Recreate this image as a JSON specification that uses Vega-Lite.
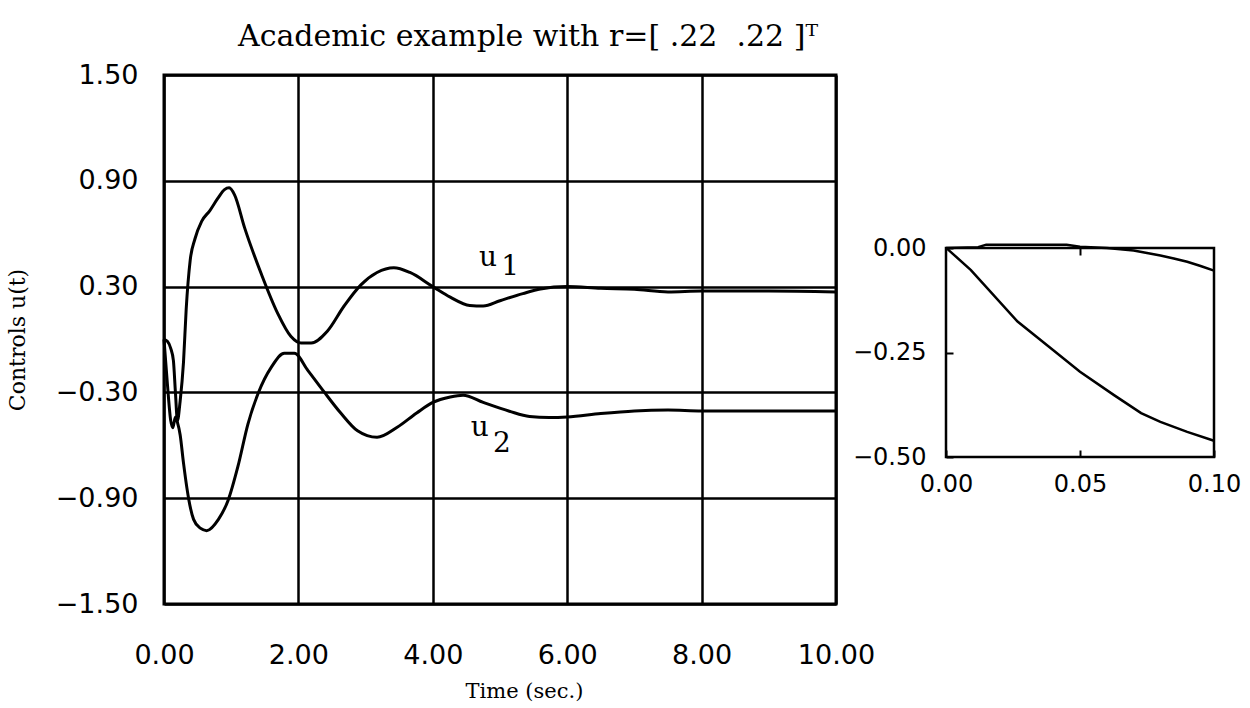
{
  "$schema": "https://vega.github.io/schema/vega-lite/v6.json",
  "background": "white",
  "padding": {"left": 4, "top": 20, "right": 5, "bottom": 2},
  "config": {
    "view": {"stroke": "black", "strokeWidth": 3},
    "axis": {"labelColor": "black", "titleColor": "black", "titleFontWeight": "normal"}
  },
  "datasets": {
    "main": [
      {"series": "u1", "t": 0, "u": 0},
      {"series": "u1", "t": 0.05, "u": -0.01},
      {"series": "u1", "t": 0.1, "u": -0.05},
      {"series": "u1", "t": 0.14, "u": -0.12},
      {"series": "u1", "t": 0.17, "u": -0.3},
      {"series": "u1", "t": 0.2, "u": -0.46},
      {"series": "u1", "t": 0.24, "u": -0.35},
      {"series": "u1", "t": 0.29, "u": -0.13},
      {"series": "u1", "t": 0.33, "u": 0.17},
      {"series": "u1", "t": 0.39, "u": 0.45},
      {"series": "u1", "t": 0.46, "u": 0.57},
      {"series": "u1", "t": 0.56, "u": 0.67},
      {"series": "u1", "t": 0.68, "u": 0.73},
      {"series": "u1", "t": 0.8, "u": 0.8},
      {"series": "u1", "t": 0.9, "u": 0.85},
      {"series": "u1", "t": 0.97, "u": 0.86},
      {"series": "u1", "t": 1.05, "u": 0.82},
      {"series": "u1", "t": 1.2, "u": 0.633},
      {"series": "u1", "t": 1.45, "u": 0.37},
      {"series": "u1", "t": 1.69, "u": 0.15},
      {"series": "u1", "t": 1.89, "u": 0.017},
      {"series": "u1", "t": 2.04, "u": -0.02},
      {"series": "u1", "t": 2.19, "u": -0.02},
      {"series": "u1", "t": 2.43, "u": 0.047},
      {"series": "u1", "t": 2.68, "u": 0.19},
      {"series": "u1", "t": 2.93, "u": 0.31},
      {"series": "u1", "t": 3.17, "u": 0.38},
      {"series": "u1", "t": 3.42, "u": 0.407},
      {"series": "u1", "t": 3.66, "u": 0.38},
      {"series": "u1", "t": 4.0, "u": 0.3},
      {"series": "u1", "t": 4.26, "u": 0.24},
      {"series": "u1", "t": 4.55, "u": 0.193},
      {"series": "u1", "t": 4.75, "u": 0.19},
      {"series": "u1", "t": 5.0, "u": 0.22},
      {"series": "u1", "t": 5.34, "u": 0.26},
      {"series": "u1", "t": 5.6, "u": 0.286},
      {"series": "u1", "t": 6.0, "u": 0.3},
      {"series": "u1", "t": 6.5, "u": 0.29},
      {"series": "u1", "t": 7.0, "u": 0.285},
      {"series": "u1", "t": 7.5, "u": 0.27},
      {"series": "u1", "t": 8.0, "u": 0.275},
      {"series": "u1", "t": 9.0, "u": 0.275},
      {"series": "u1", "t": 10.0, "u": 0.27},
      {"series": "u2", "t": 0, "u": 0},
      {"series": "u2", "t": 0.05, "u": -0.25},
      {"series": "u2", "t": 0.1, "u": -0.46},
      {"series": "u2", "t": 0.13, "u": -0.5},
      {"series": "u2", "t": 0.17, "u": -0.44},
      {"series": "u2", "t": 0.2, "u": -0.47},
      {"series": "u2", "t": 0.24, "u": -0.54},
      {"series": "u2", "t": 0.29, "u": -0.7},
      {"series": "u2", "t": 0.34, "u": -0.84},
      {"series": "u2", "t": 0.37, "u": -0.91},
      {"series": "u2", "t": 0.44, "u": -1.02},
      {"series": "u2", "t": 0.54, "u": -1.07},
      {"series": "u2", "t": 0.635, "u": -1.084},
      {"series": "u2", "t": 0.81, "u": -1.02},
      {"series": "u2", "t": 0.956, "u": -0.91},
      {"series": "u2", "t": 1.1, "u": -0.72},
      {"series": "u2", "t": 1.25, "u": -0.478},
      {"series": "u2", "t": 1.4, "u": -0.306},
      {"series": "u2", "t": 1.6, "u": -0.155},
      {"series": "u2", "t": 1.79, "u": -0.078},
      {"series": "u2", "t": 1.94, "u": -0.078},
      {"series": "u2", "t": 2.14, "u": -0.175},
      {"series": "u2", "t": 2.38, "u": -0.296},
      {"series": "u2", "t": 2.63, "u": -0.417},
      {"series": "u2", "t": 2.88, "u": -0.518},
      {"series": "u2", "t": 3.17, "u": -0.555},
      {"series": "u2", "t": 3.47, "u": -0.498},
      {"series": "u2", "t": 3.76, "u": -0.417},
      {"series": "u2", "t": 4.0, "u": -0.357},
      {"series": "u2", "t": 4.26, "u": -0.326},
      {"series": "u2", "t": 4.45, "u": -0.316},
      {"series": "u2", "t": 4.75, "u": -0.357},
      {"series": "u2", "t": 5.14, "u": -0.407},
      {"series": "u2", "t": 5.44, "u": -0.437},
      {"series": "u2", "t": 5.73, "u": -0.443},
      {"series": "u2", "t": 6.0, "u": -0.44},
      {"series": "u2", "t": 6.5, "u": -0.42},
      {"series": "u2", "t": 7.0, "u": -0.405},
      {"series": "u2", "t": 7.5, "u": -0.4},
      {"series": "u2", "t": 8.0, "u": -0.405},
      {"series": "u2", "t": 9.0, "u": -0.405},
      {"series": "u2", "t": 10.0, "u": -0.405}
    ],
    "inset": [
      {"series": "u1", "t": 0, "u": 0},
      {"series": "u1", "t": 0.012, "u": 0.002},
      {"series": "u1", "t": 0.015, "u": 0.008},
      {"series": "u1", "t": 0.045, "u": 0.008},
      {"series": "u1", "t": 0.05, "u": 0.003},
      {"series": "u1", "t": 0.06, "u": 0.0},
      {"series": "u1", "t": 0.065, "u": -0.003},
      {"series": "u1", "t": 0.07, "u": -0.006},
      {"series": "u1", "t": 0.075, "u": -0.012},
      {"series": "u1", "t": 0.08, "u": -0.018},
      {"series": "u1", "t": 0.085, "u": -0.025},
      {"series": "u1", "t": 0.09, "u": -0.033},
      {"series": "u1", "t": 0.095, "u": -0.043},
      {"series": "u1", "t": 0.1, "u": -0.054},
      {"series": "u2", "t": 0, "u": 0},
      {"series": "u2", "t": 0.001, "u": -0.005},
      {"series": "u2", "t": 0.0093, "u": -0.053},
      {"series": "u2", "t": 0.0267, "u": -0.176},
      {"series": "u2", "t": 0.039, "u": -0.239},
      {"series": "u2", "t": 0.05, "u": -0.296},
      {"series": "u2", "t": 0.0627, "u": -0.352},
      {"series": "u2", "t": 0.0728, "u": -0.395},
      {"series": "u2", "t": 0.08, "u": -0.416},
      {"series": "u2", "t": 0.09, "u": -0.44},
      {"series": "u2", "t": 0.1, "u": -0.461}
    ],
    "labels": [
      {"t": 4.82, "u": 0.46, "s": "u"},
      {"t": 5.15, "u": 0.41, "s": "1"},
      {"t": 4.7, "u": -0.5, "s": "u"},
      {"t": 5.03, "u": -0.59, "s": "2"}
    ]
  },
  "hconcat": [
    {
      "width": 672,
      "height": 529,
      "title": {"text": "Academic example with r=[ .22\u00a0\u00a0.22 ]ᵀ", "font": "DejaVu Serif", "fontSize": 30, "fontWeight": "normal", "color": "black", "dx": 28, "offset": 9},
      "layer": [
        {
          "data": {"name": "main"},
          "mark": {"type": "line", "color": "black", "strokeWidth": 3, "interpolate": "monotone"},
          "encoding": {
            "x": {"field": "t", "type": "quantitative", "scale": {"domain": [0, 10], "nice": false, "zero": false},
              "axis": {"values": [0, 2, 4, 6, 8, 10], "format": ".2f", "grid": true, "gridColor": "black", "gridWidth": 2.5, "gridOpacity": 1, "ticks": false, "domain": false,
                "labelFont": "DejaVu Sans", "labelFontSize": 27, "labelPadding": 38, "labelDx": 17, "labelFlush": false,
                "title": "Time (sec.)", "titleFont": "DejaVu Serif", "titleFontSize": 21, "titlePadding": 12, "titleX": 360}},
            "y": {"field": "u", "type": "quantitative", "scale": {"domain": [-1.5, 1.5], "nice": false, "zero": false},
              "axis": {"values": [-1.5, -0.9, -0.3, 0.3, 0.9, 1.5], "format": ".2f", "grid": true, "gridColor": "black", "gridWidth": 2.5, "gridOpacity": 1, "ticks": false, "domain": false,
                "labelFont": "DejaVu Sans", "labelFontSize": 27, "labelPadding": 26, "labelFlush": false,
                "title": "Controls u(t)", "titleFont": "DejaVu Serif", "titleFontSize": 22, "titlePadding": 26}},
            "detail": {"field": "series"}
          }
        },
        {
          "data": {"name": "labels"},
          "mark": {"type": "text", "font": "DejaVu Serif", "fontSize": 28, "color": "black"},
          "encoding": {
            "x": {"field": "t", "type": "quantitative"},
            "y": {"field": "u", "type": "quantitative"},
            "text": {"field": "s"}
          }
        }
      ]
    },
    {
      "bounds": "flush",
      "spacing": 13,
      "vconcat": [
        {
          "width": 268,
          "height": 160,
          "view": {"stroke": null},
          "data": {"values": [{"a": 1}]},
          "mark": {"type": "text"},
          "encoding": {"text": {"value": ""}}
        },
        {
          "width": 268,
          "height": 209,
          "view": {"stroke": "black", "strokeWidth": 2.5},
          "data": {"name": "inset"},
          "resolve": {"axis": {"x": "independent"}},
          "layer": [
            {
              "transform": [{"filter": "datum.series === 'u2'"}],
              "mark": {"type": "line", "color": "black", "strokeWidth": 2.5},
              "encoding": {
                "x": {"field": "t", "type": "quantitative", "scale": {"domain": [0, 0.1], "nice": false, "zero": false},
                  "axis": {"orient": "bottom", "values": [0, 0.05, 0.1], "format": ".2f", "grid": false, "domain": false, "ticks": true, "tickSize": -7, "tickWidth": 2, "tickColor": "black",
                    "labelFont": "DejaVu Sans", "labelFontSize": 24, "labelPadding": 22, "labelFlush": false, "title": null}},
                "y": {"field": "u", "type": "quantitative", "scale": {"domain": [-0.5, 0], "nice": false, "zero": false},
                  "axis": {"values": [-0.5, -0.25, 0], "format": ".2f", "grid": false, "domain": false, "ticks": true, "tickSize": -7, "tickWidth": 2, "tickColor": "black",
                    "labelFont": "DejaVu Sans", "labelFontSize": 24, "labelPadding": 27, "labelFlush": false, "title": null}}
              }
            },
            {
              "transform": [{"filter": "datum.series === 'u1'"}],
              "mark": {"type": "line", "color": "black", "strokeWidth": 2.5},
              "encoding": {
                "x": {"field": "t", "type": "quantitative",
                  "axis": {"orient": "top", "values": [0.05], "labels": false, "grid": false, "domain": false, "ticks": true, "tickSize": -7, "tickWidth": 2, "tickColor": "black", "title": null}},
                "y": {"field": "u", "type": "quantitative"}
              }
            }
          ]
        }
      ]
    }
  ],
  "spacing": 110,
  "bounds": "flush"
}
